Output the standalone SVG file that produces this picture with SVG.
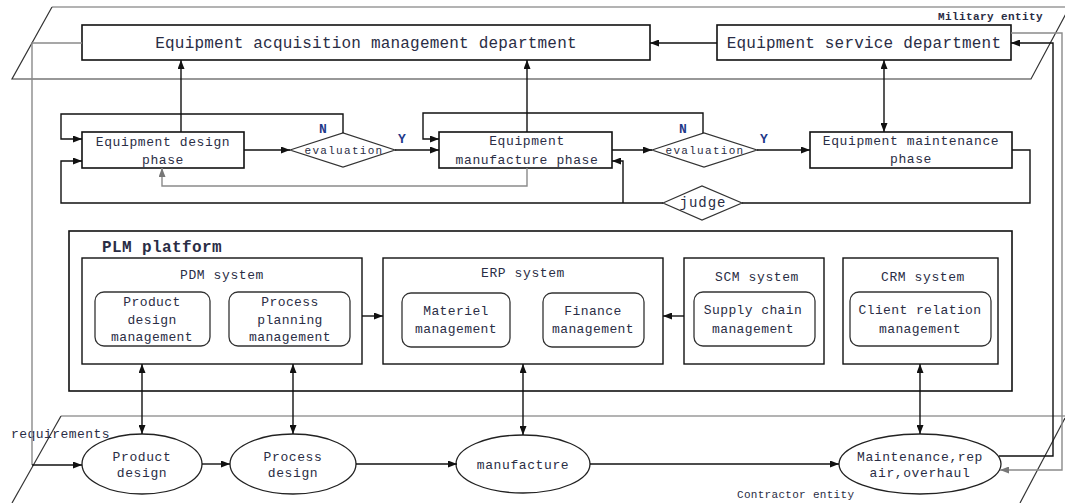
<svg xmlns="http://www.w3.org/2000/svg" width="1065" height="503" viewBox="0 0 1065 503">
  <defs>
    <marker id="ah" viewBox="0 0 9 7" refX="9" refY="3.5" markerWidth="9" markerHeight="7" markerUnits="userSpaceOnUse" orient="auto-start-reverse">
      <path d="M0,0 L9,3.5 L0,7 z" fill="#111"/>
    </marker>
    <marker id="ahg" viewBox="0 0 9 7" refX="9" refY="3.5" markerWidth="9" markerHeight="7" markerUnits="userSpaceOnUse" orient="auto-start-reverse">
      <path d="M0,0 L9,3.5 L0,7 z" fill="#777"/>
    </marker>
    <style>
      .box { fill: #fff; stroke: #111; stroke-width: 1.6; }
      .sys { fill: #fff; stroke: #111; stroke-width: 1.4; }
      .rbox { fill: #fff; stroke: #333; stroke-width: 1.3; }
      .dia { fill: #fff; stroke: #333; stroke-width: 1.2; }
      .ell { fill: #fff; stroke: #222; stroke-width: 1.3; }
      .ln { fill: none; stroke: #111; stroke-width: 1.4; }
      .gl { fill: none; stroke: #8a8a8a; stroke-width: 1.4; }
      .edge { fill: none; stroke: #333; stroke-width: 1.2; }
      .edgeg { fill: none; stroke: #9a9a9a; stroke-width: 1.5; }
      .arr { marker-end: url(#ah); }
      .arr2 { marker-start: url(#ah); marker-end: url(#ah); }
      .arrg { marker-end: url(#ahg); }
      text { font-family: "Liberation Mono", "DejaVu Sans Mono", monospace; fill: #2a2d45; }
      .t16 { font-size: 16px; letter-spacing: 0.2px; text-anchor: middle; }
      .t13 { font-size: 13px; letter-spacing: 0.6px; text-anchor: middle; }
      .t13s { font-size: 13px; letter-spacing: 0.4px; text-anchor: middle; }
      .ev { font-size: 11px; letter-spacing: 1.3px; text-anchor: middle; }
      .yn { font-size: 13px; font-weight: bold; fill: #1f3a8a; text-anchor: middle; }
      .small { font-size: 11px; letter-spacing: 0.4px; }
    </style>
  </defs>

  <!-- entity planes -->
  <g id="military-plane">
    <path class="edgeg" d="M52,7 H1065"/>
    <path class="edge" d="M52,7 L12,79 H1031 L1068,10"/>
    <text class="small" x="938" y="20" style="font-weight:bold">Military entity</text>
  </g>
  <g id="contractor-plane">
    <path class="edgeg" d="M61,416 H1065"/>
    <path class="edge" d="M61,416 L12,503"/>
    <path class="edge" d="M1065,418 L1020,503"/>
    <text class="small" x="737" y="498" style="letter-spacing:0.3px">Contractor entity</text>
  </g>

  <!-- military departments -->
  <g id="acquisition-dept">
    <rect class="box" x="82" y="25" width="568" height="35"/>
    <text class="t16" x="366" y="48">Equipment acquisition management department</text>
  </g>
  <g id="service-dept">
    <rect class="box" x="717" y="25" width="294" height="35"/>
    <text class="t16" x="864" y="48">Equipment service department</text>
  </g>

  <!-- life-cycle phases -->
  <g id="design-phase">
    <rect class="box" x="82" y="132" width="162" height="36"/>
    <text class="t13" x="163" y="146">Equipment design</text>
    <text class="t13" x="163" y="164">phase</text>
  </g>
  <g id="evaluation-1">
    <polygon class="dia" points="290,150 343,133 395,150 343,167"/>
    <text class="ev" x="344" y="154">evaluation</text>
    <text class="yn" x="323" y="133">N</text>
    <text class="yn" x="402" y="143">Y</text>
  </g>
  <g id="manufacture-phase">
    <rect class="box" x="439" y="132" width="173" height="36"/>
    <text class="t13" x="527" y="145">Equipment</text>
    <text class="t13" x="527" y="164">manufacture phase</text>
  </g>
  <g id="evaluation-2">
    <polygon class="dia" points="652,150 704,133 757,150 704,167"/>
    <text class="ev" x="705" y="154">evaluation</text>
    <text class="yn" x="683" y="133">N</text>
    <text class="yn" x="764" y="143">Y</text>
  </g>
  <g id="maintenance-phase">
    <rect class="box" x="810" y="132" width="202" height="36"/>
    <text class="t13" x="911" y="145">Equipment maintenance</text>
    <text class="t13" x="911" y="163">phase</text>
  </g>
  <g id="judge">
    <polygon class="dia" points="663,203 702,186 742,203 702,220"/>
    <text x="703" y="207" style="font-size:14px;letter-spacing:1px;text-anchor:middle">judge</text>
  </g>

  <!-- PLM platform -->
  <g id="plm-platform">
    <rect class="box" x="69" y="231" width="943" height="160"/>
    <text x="102" y="252" style="font-size:16px;font-weight:bold;letter-spacing:0.4px">PLM platform</text>
  </g>
  <g id="pdm-system">
    <rect class="sys" x="82" y="258" width="280" height="106"/>
    <text class="t13" x="222" y="279">PDM system</text>
    <rect class="rbox" x="95" y="292" width="115" height="54" rx="9"/>
    <text class="t13s" x="152" y="306">Product</text>
    <text class="t13s" x="152" y="324">design</text>
    <text class="t13s" x="152" y="341">management</text>
    <rect class="rbox" x="229" y="292" width="121" height="54" rx="9"/>
    <text class="t13s" x="290" y="306">Process</text>
    <text class="t13s" x="290" y="324">planning</text>
    <text class="t13s" x="290" y="341">management</text>
  </g>
  <g id="erp-system">
    <rect class="sys" x="383" y="258" width="280" height="106"/>
    <text class="t13" x="523" y="277">ERP system</text>
    <rect class="rbox" x="402" y="293" width="108" height="54" rx="9"/>
    <text class="t13s" x="456" y="315">Materiel</text>
    <text class="t13s" x="456" y="333">management</text>
    <rect class="rbox" x="543" y="293" width="101" height="54" rx="9"/>
    <text class="t13s" x="593" y="315">Finance</text>
    <text class="t13s" x="593" y="333">management</text>
  </g>
  <g id="scm-system">
    <rect class="sys" x="684" y="258" width="140" height="106"/>
    <text class="t13" x="757" y="281">SCM system</text>
    <rect class="rbox" x="694" y="292" width="121" height="54" rx="9"/>
    <text class="t13s" x="753" y="314">Supply chain</text>
    <text class="t13s" x="753" y="333">management</text>
  </g>
  <g id="crm-system">
    <rect class="sys" x="843" y="258" width="155" height="106"/>
    <text class="t13" x="923" y="281">CRM system</text>
    <rect class="rbox" x="850" y="292" width="141" height="54" rx="9"/>
    <text class="t13s" x="920" y="314">Client relation</text>
    <text class="t13s" x="920" y="333">management</text>
  </g>

  <!-- contractor activities -->
  <g id="requirements">
    <text x="11" y="438" style="font-size:13px;letter-spacing:0.45px">requirements</text>
  </g>
  <g id="product-design">
    <ellipse class="ell" cx="142" cy="464" rx="60" ry="30"/>
    <text class="t13" x="142" y="461">Product</text>
    <text class="t13" x="142" y="477">design</text>
  </g>
  <g id="process-design">
    <ellipse class="ell" cx="293" cy="464" rx="63" ry="30"/>
    <text class="t13" x="293" y="461">Process</text>
    <text class="t13" x="293" y="477">design</text>
  </g>
  <g id="manufacture">
    <ellipse class="ell" cx="523" cy="464" rx="67" ry="29"/>
    <text class="t13" x="523" y="469">manufacture</text>
  </g>
  <g id="maintenance">
    <ellipse class="ell" cx="920" cy="464" rx="81" ry="30"/>
    <text class="t13" x="920" y="461">Maintenance,rep</text>
    <text class="t13" x="920" y="477">air,overhaul</text>
  </g>

  <!-- connectors, drawn over the platform frame -->
  <g id="connectors">
    <path class="ln arr" d="M181,132 V60"/>
    <path class="ln arr" d="M527,132 V60"/>
    <path class="ln arr" d="M717,43 H650"/>
    <path class="ln arr2" d="M884,60 V132"/>
    <path class="gl" d="M82,43 H32 V465"/>
    <path class="ln arr" d="M32,465 H82"/>
    <path class="ln arr" d="M244,150 H290"/>
    <path class="ln arr" d="M395,150 H439"/>
    <path class="ln arr" d="M343,133 V114 H61 V139 H82"/>
    <path class="ln arr" d="M612,150 H652"/>
    <path class="ln arr" d="M757,150 H810"/>
    <path class="ln arr" d="M703,133 V113 H423 V139 H439"/>
    <path class="ln" d="M1012,150 H1030 V203 H742"/>
    <path class="ln arr" d="M663,203 H61 V161 H82"/>
    <path class="ln arr" d="M623,203 V161 H612"/>
    <path class="gl arrg" d="M527,168 V186 H162 V168"/>
    <path class="ln arr" d="M362,316 H383"/>
    <path class="ln arr" d="M684,316 H663"/>
    <path class="ln arr2" d="M142,364 V434"/>
    <path class="ln arr2" d="M293,364 V434"/>
    <path class="ln arr2" d="M523,364 V435"/>
    <path class="ln arr2" d="M920,364 V434"/>
    <path class="ln arr" d="M202,464 H230"/>
    <path class="ln arr" d="M356,464 H457"/>
    <path class="ln arr" d="M590,464 H839"/>
    <path class="ln arr" d="M999,456 H1053 V43 H1011"/>
    <path class="gl arrg" d="M1011,33 H1062 V470 H1000"/>
  </g>
</svg>
